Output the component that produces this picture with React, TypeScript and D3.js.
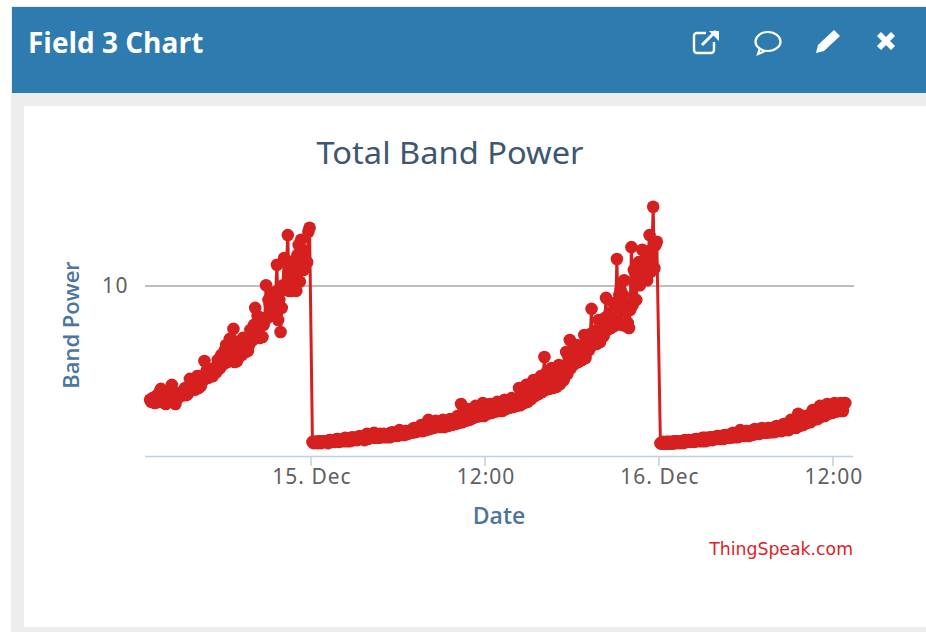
import React from "react";
import * as d3 from "d3";

const sampleMinutes = 5;
const run1Start = Date.UTC(2016, 11, 14, 12, 54);
const run2Start = Date.UTC(2016, 11, 15, 0, 6);
const run3Start = Date.UTC(2016, 11, 16, 0, 6);
const domainStart = Date.UTC(2016, 11, 14, 12, 33);
const domainEnd = Date.UTC(2016, 11, 16, 13, 23);

const run1Values = [
  2.14, 2.11, 2.25, 2.48, 2.05, 2.38, 2.62, 2.02, 2.25, 2.35, 2.28, 2.84, 2.76, 2.95, 2.58, 3.62, 2.88, 3.12, 3.29, 3.57,
  3.87, 4.49, 4.88, 5.59, 3.62, 4.49, 4.09, 4.15, 5.15, 7.43, 5.66, 5.01, 10.1, 7.72, 8.28, 13.3, 5.36, 14.6, 19.9, 9.35,
  14.2, 17.4, 16.3, 13.8, 22.0,
];
const run1Second = [
  2.19, 2.25, 2.38, 2.31, 2.38, 2.45, 2.31, 2.19, 2.38, 2.51, 2.51, 2.65, 2.72, 2.95, 2.80, 3.20, 3.12, 3.29, 3.67, 3.93,
  4.20, 4.09, 4.81, 4.49, 4.49, 4.95, 4.43, 5.51, 5.90, 6.66, 6.14, 6.48, 8.28, 8.74, 9.23, 8.28, 10.1, 13.8, 13.3, 12.1,
  15.2, 18.7, 15.2, 20.8,
];
const run1Third = [
  2.08, 2.05, 2.08, 2.14, 2.02, 2.14, 2.08, 2.19, 2.25, 2.28, 2.31, 2.45, 2.45, 2.51, 2.72, 2.88, 2.95, 2.95, 3.12, 3.29,
  3.48, 3.57, 3.77, 3.57, 3.77, 3.93, 4.09, 4.49, 4.81, 5.51, 4.95, 5.90, 6.48, 6.75, 7.03, 6.31, 7.43, 9.47, 9.35, 9.74,
  9.35, 10.6, 12.4, 13.8,
];
const run2Values = [
  1.21, 1.21, 1.22, 1.21, 1.22, 1.24, 1.22, 1.26, 1.24, 1.28,
  1.26, 1.29, 1.28, 1.31, 1.28, 1.35, 1.29, 1.37, 1.28, 1.33,
  1.31, 1.35, 1.38, 1.33, 1.42, 1.37, 1.40, 1.37, 1.46, 1.42,
  1.52, 1.44, 1.63, 1.50, 1.61, 1.50, 1.63, 1.54, 1.65, 1.58,
  1.72, 2.02, 1.77, 1.89, 1.82, 1.97, 1.86, 2.05, 1.89, 2.02,
  1.94, 2.08, 1.94, 2.14, 2.02, 2.19, 2.05, 2.51, 2.14, 2.62,
  2.25, 2.80, 2.51, 2.95, 3.82, 2.72, 3.29, 2.72, 3.43, 3.12,
  4.09, 4.81, 3.57, 4.49, 4.09, 5.15, 4.67, 7.33, 4.95, 6.31,
  5.90, 8.50, 6.14, 7.93, 14.4, 9.47, 10.8, 6.06, 16.9, 10.3,
  13.8, 16.3, 12.1, 19.9, 29.2, 18.2,
];
const run2Second = [
  1.21, 1.22, 1.22, 1.22, 1.24, 1.22, 1.26, 1.24, 1.24, 1.26,
  1.28, 1.28, 1.29, 1.29, 1.31, 1.31, 1.33, 1.31, 1.35, 1.35,
  1.33, 1.37, 1.37, 1.38, 1.38, 1.40, 1.40, 1.44, 1.42, 1.46,
  1.48, 1.50, 1.52, 1.54, 1.54, 1.56, 1.56, 1.58, 1.61, 1.63,
  1.65, 1.82, 1.84, 1.84, 1.89, 1.92, 1.94, 1.94, 1.99, 1.99,
  2.02, 2.02, 2.05, 2.05, 2.11, 2.11, 2.16, 2.25, 2.31, 2.38,
  2.45, 2.58, 2.72, 2.88, 3.12, 3.03, 2.95, 3.12, 3.20, 3.38,
  3.77, 4.09, 3.98, 4.09, 4.49, 4.56, 5.22, 5.36, 5.51, 5.82,
  6.48, 6.75, 7.03, 7.72, 8.86, 8.86, 7.93, 7.23, 12.4, 12.4,
  12.7, 13.8, 15.2, 16.3, 17.4,
];
const run2Third = [
  1.19, 1.19, 1.19, 1.21, 1.19, 1.21, 1.21, 1.21, 1.22, 1.22,
  1.22, 1.24, 1.24, 1.26, 1.24, 1.26, 1.28, 1.28, 1.28, 1.29,
  1.29, 1.29, 1.31, 1.31, 1.33, 1.33, 1.35, 1.37, 1.38, 1.40,
  1.40, 1.42, 1.44, 1.46, 1.48, 1.48, 1.48, 1.50, 1.52, 1.54,
  1.56, 1.58, 1.61, 1.63, 1.67, 1.70, 1.72, 1.72, 1.77, 1.79,
  1.82, 1.84, 1.84, 1.89, 1.92, 1.94, 1.97, 1.99, 2.05, 2.08,
  2.16, 2.25, 2.31, 2.38, 2.45, 2.48, 2.51, 2.55, 2.65, 2.80,
  3.03, 3.29, 3.48, 3.57, 3.67, 3.77, 4.20, 4.49, 4.56, 4.67,
  5.08, 5.51, 5.66, 5.82, 6.14, 5.90, 5.82, 5.66, 7.72, 8.28,
  10.1, 11.1, 10.8, 12.1, 12.7,
];
const run3Values = [
  1.19, 1.19, 1.21, 1.19, 1.22, 1.21, 1.22, 1.22, 1.24, 1.22,
  1.26, 1.24, 1.28, 1.24, 1.29, 1.26, 1.31, 1.28, 1.33, 1.29,
  1.37, 1.31, 1.42, 1.33, 1.40, 1.35, 1.44, 1.38, 1.46, 1.40,
  1.46, 1.42, 1.50, 1.44, 1.54, 1.46, 1.63, 1.52, 1.77, 1.56,
  1.72, 1.61, 1.86, 1.70, 1.97, 1.79, 2.02, 1.82, 2.05, 1.86,
  1.84, 2.05,
];
const run3Second = [
  1.21, 1.21, 1.21, 1.22, 1.22, 1.22, 1.24, 1.24, 1.24, 1.26,
  1.26, 1.28, 1.28, 1.29, 1.29, 1.31, 1.31, 1.33, 1.33, 1.35,
  1.35, 1.37, 1.37, 1.40, 1.38, 1.42, 1.40, 1.44, 1.42, 1.46,
  1.44, 1.48, 1.46, 1.52, 1.48, 1.56, 1.54, 1.61, 1.58, 1.67,
  1.65, 1.77, 1.74, 1.86, 1.84, 1.92, 1.92, 1.99, 1.97, 2.05,
  2.05,
];
const run3Third = [
  1.18, 1.18, 1.18, 1.18, 1.19, 1.19, 1.19, 1.21, 1.21, 1.21,
  1.22, 1.22, 1.22, 1.24, 1.24, 1.26, 1.26, 1.26, 1.28, 1.28,
  1.29, 1.29, 1.31, 1.31, 1.31, 1.33, 1.35, 1.35, 1.37, 1.37,
  1.38, 1.38, 1.40, 1.40, 1.42, 1.42, 1.46, 1.46, 1.50, 1.52,
  1.56, 1.58, 1.63, 1.65, 1.70, 1.72, 1.77, 1.79, 1.82, 1.84,
  1.84,
];

const chartTitle = "Total Band Power";
const panelTitle = "Field 3 Chart";
const yAxisTitle = "Band Power";
const xAxisTitle = "Date";
const creditText = "ThingSpeak.com";
const yTicks = [10];

const font = "'DejaVu Sans', Verdana, sans-serif";
const red = "#d62020";

function stamp(start: number, first: number[], second: number[], third: number[]) {
  const out: { t: Date; value: number }[] = [];
  const at = (k: number) => new Date(start + k * sampleMinutes * 60000);
  first.forEach((value, i) => {
    out.push({ t: at(i * 3), value });
    if (i < second.length) out.push({ t: at(i * 3 + 1), value: third[i] });
    if (i < second.length) out.push({ t: at(i * 3 + 2), value: second[i] });
  });
  return out;
}

export default function App() {
  const points = [
    ...stamp(run1Start, run1Values, run1Second, run1Third),
    ...stamp(run2Start, run2Values, run2Second, run2Third),
    ...stamp(run3Start, run3Values, run3Second, run3Third),
  ];
  const x = d3.scaleUtc().domain([new Date(domainStart), new Date(domainEnd)]).range([145, 853]);
  const y = d3.scaleLog().domain([1, 32]).range([456, 200]);
  const line = d3
    .line<{ t: Date; value: number }>()
    .x((d) => x(d.t))
    .y((d) => y(d.value));
  const xTicks = x.ticks(d3.utcHour.every(12)!);
  const fmt = (d: Date) =>
    d.getUTCHours() === 0 ? d3.utcFormat("%-d. %b")(d) : d3.utcFormat("%H:%M")(d);

  return (
    <svg
      width={926}
      height={632}
      style={{ position: "absolute", left: 0, top: 0, background: "#fff" }}
      fontFamily={font}
    >
      <rect x={11} y={6} width={915} height={626} fill="#ededed" />
      <rect x={12} y={7} width={914} height={86} fill="#2e7bb0" />
      <rect x={24} y={106} width={902} height={521} fill="#fff" />
      <text x={28} y={53} fill="#fff" fontSize={28} fontWeight={700} fontFamily="'Open Sans', sans-serif">
        {panelTitle}
      </text>

      {/* header icons */}
      <g fill="none" stroke="#fff" strokeWidth={2.4}>
        <path d="M714 42v8a3 3 0 0 1-3 3h-14a3 3 0 0 1-3-3v-14a3 3 0 0 1 3-3h9" />
        <path d="M702 45l14-14" strokeWidth={3} />
        <path d="M709 31h10v10" fill="#fff" stroke="none" />
        <ellipse cx={768} cy={41.5} rx={12.5} ry={9.5} strokeWidth={2.2} />
        <path d="M760 48l-2 6 7-3" strokeWidth={2.2} />
      </g>
      <path d="M816 53l2-8 16-15 6 6-16 15z" fill="#fff" />
      <path d="M878 36l3-3 5 5 5-5 3 3-5 5 5 5-3 3-5-5-5 5-3-3 5-5z" fill="#fff" stroke="#fff" strokeWidth={1.5} />

      <text x={450} y={164} textAnchor="middle" fontSize={30} fill="#3e576f" fontFamily="'Noto Sans', sans-serif" textLength={267} lengthAdjust="spacingAndGlyphs">
        {chartTitle}
      </text>

      {yTicks.map((t) => (
        <g key={t}>
          <line x1={145} x2={854} y1={y(t)} y2={y(t)} stroke="#a9a9a9" strokeWidth={1.5} />
          <text x={129} y={y(t) + 7} textAnchor="end" fontSize={21} fill="#606060" fontFamily="'Noto Sans', sans-serif" letterSpacing={1.5}>
            {t}
          </text>
        </g>
      ))}

      <line x1={145} x2={853} y1={456.5} y2={456.5} stroke="#c0d0e0" strokeWidth={1.5} />
      {xTicks.map((t) => (
        <g key={t.getTime()}>
          <line x1={x(t)} x2={x(t)} y1={456} y2={466} stroke="#c0d0e0" strokeWidth={1.5} />
          <text x={x(t) + 1} y={484} textAnchor="middle" fontSize={21} fill="#606060" fontFamily="'Noto Sans', sans-serif" letterSpacing={1}>
            {fmt(t)}
          </text>
        </g>
      ))}

      <text
        transform="translate(79,325) rotate(-90)"
        textAnchor="middle"
        fontSize={22}
        fontWeight={600}
        fill="#4d759e"
        fontFamily="'Open Sans', sans-serif"
      >
        {yAxisTitle}
      </text>
      <text x={499} y={524} textAnchor="middle" fontSize={23} fontWeight={600} fill="#4d759e" fontFamily="'Open Sans', sans-serif">
        {xAxisTitle}
      </text>

      <path d={line(points) ?? ""} fill="none" stroke={red} strokeWidth={3} />
      {points.map((p, i) => (
        <circle key={i} cx={x(p.t)} cy={y(p.value)} r={6.3} fill={red} />
      ))}

      <text x={853} y={555} textAnchor="end" fontSize={17.3} fill="#d8232a">
        {creditText}
      </text>
    </svg>
  );
}
